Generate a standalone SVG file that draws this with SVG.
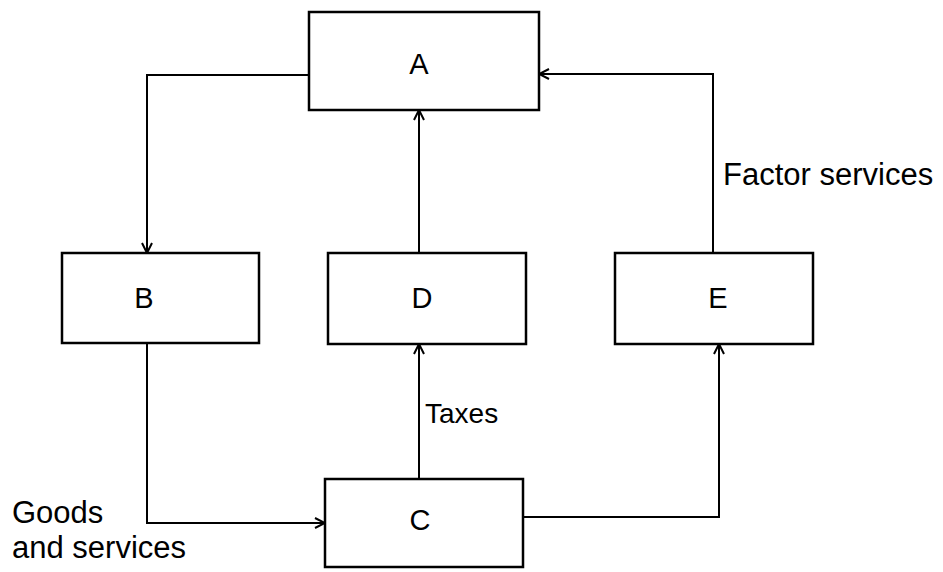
<svg xmlns="http://www.w3.org/2000/svg" width="943" height="572" viewBox="0 0 943 572">
<style>
.box{fill:#fff;stroke:#000;stroke-width:2.5}
.lbl{font-family:"Liberation Sans",Arial,sans-serif;font-size:29px;fill:#000;text-anchor:middle}
.txt{font-family:"Liberation Sans",Arial,sans-serif;font-size:31px;fill:#000}
.con{fill:none;stroke:#000;stroke-width:2;marker-end:url(#arr)}
</style>
<defs>
<marker id="arr" viewBox="0 0 12 12" refX="11" refY="6" markerWidth="12" markerHeight="12" markerUnits="userSpaceOnUse" orient="auto">
<path d="M1,1 L11,6 L1,11" fill="none" stroke="#000" stroke-width="2"/>
</marker>
</defs>
<g id="connectors">
<path class="con" d="M309,75 H147 V253"/>
<path class="con" d="M713,253 V74 H539"/>
<path class="con" d="M419,253 V110"/>
<path class="con" d="M419,479 V344"/>
<path class="con" d="M147,344 V523 H325"/>
<path class="con" d="M523,517 H719 V344"/>
</g>
<g id="A"><rect class="box" x="309" y="12" width="230" height="98"/><text class="lbl" x="419" y="74">A</text></g>
<g id="B"><rect class="box" x="62" y="253" width="197" height="90"/><text class="lbl" x="144" y="308">B</text></g>
<g id="D"><rect class="box" x="328" y="253" width="198" height="91"/><text class="lbl" x="422" y="308">D</text></g>
<g id="E"><rect class="box" x="615" y="253" width="198" height="91"/><text class="lbl" x="718" y="308">E</text></g>
<g id="C"><rect class="box" x="325" y="479" width="198" height="88"/><text class="lbl" x="420" y="530">C</text></g>
<g id="labels">
<text class="txt" x="723" y="185">Factor services</text>
<text class="txt" x="425" y="423" style="font-size:28px">Taxes</text>
<text class="txt" x="12" y="523">Goods</text>
<text class="txt" x="12" y="558">and services</text>
</g>
</svg>
